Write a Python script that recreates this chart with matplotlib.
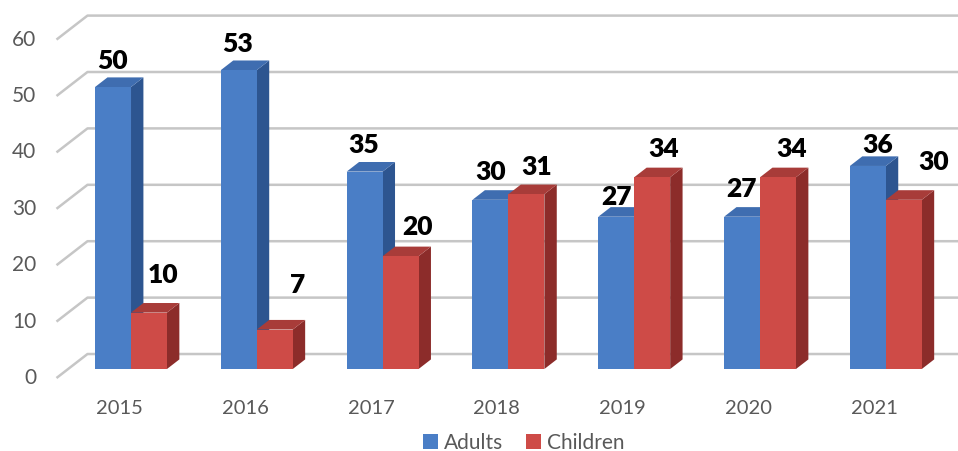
import numpy as np
import matplotlib.pyplot as plt
from matplotlib.patches import Polygon, Patch

plt.rcParams['font.family'] = ['Lato', 'DejaVu Sans']

# data
years = ['2015', '2016', '2017', '2018', '2019', '2020', '2021']
adults = [50, 53, 35, 30, 27, 27, 36]
children = [10, 7, 20, 31, 34, 34, 30]
y_ticks = [0, 10, 20, 30, 40, 50, 60]

# label nudges in pixels (right, up) from the top front edge of each bar
adult_nudge = [(-1, 18), (-1, 18), (-1, 19), (0, 20), (0, 12), (-1, 20), (10, 13)]
child_nudge = [(14, 30), (23, 37), (17, 21), (10, 19), (11, 20), (14, 20), (30, 30)]

# oblique 3d projection: one unit of depth moves this far in data units
DX = 0.2464
DY = 4.255
BAR_W = 0.2857
Z_FRONT, Z_BACK = 0.375, 0.775

series = [
    (adults, -BAR_W, adult_nudge, {'front': '#4A7EC6', 'side': '#2D5590', 'top': '#3F6DB0'}),
    (children, 0.0, child_nudge, {'front': '#CE4B47', 'side': '#8C2C2A', 'top': '#A83C39'}),
]


def proj(x, v, z):
    return (x + z * DX, v + z * DY)


fig = plt.figure(figsize=(9.58, 4.51), dpi=100)
ax = fig.add_axes([0, 0, 1, 1])
ax.set_xlim(-0.949, 6.666)
ax.set_ylim(-12.94, 67.02)
ax.axis('off')

# walls: side wall diagonals and back wall grid
x_left, x_right = -0.5, 6.6
for t in y_ticks:
    p0 = proj(x_left, t, 0)
    p1 = proj(x_left, t, 1)
    p2 = proj(x_right, t, 1)
    ax.plot([p0[0], p1[0], p2[0]], [p0[1], p1[1], p2[1]], color='#C6C6C6', lw=1.8,
            solid_capstyle='butt', zorder=1)
    ax.annotate(str(t), xy=p0, xytext=(-20, 0), textcoords='offset pixels',
                ha='right', va='center', fontsize=15, color='#595959')

# bars, left to right so that each front face hides the neighbour's side
for i, yr in enumerate(years):
    for vals, off, nudge, col in series:
        v = vals[i]
        x0, x1 = i + off, i + off + BAR_W
        side = [proj(x1, 0, Z_FRONT), proj(x1, 0, Z_BACK), proj(x1, v, Z_BACK), proj(x1, v, Z_FRONT)]
        top = [proj(x0, v, Z_FRONT), proj(x1, v, Z_FRONT), proj(x1, v, Z_BACK), proj(x0, v, Z_BACK)]
        front = [proj(x0, 0, Z_FRONT), proj(x1, 0, Z_FRONT), proj(x1, v, Z_FRONT), proj(x0, v, Z_FRONT)]
        ax.add_patch(Polygon(side, closed=True, fc=col['side'], ec='none', zorder=3))
        ax.add_patch(Polygon(top, closed=True, fc=col['top'], ec='none', zorder=3))
        ax.add_patch(Polygon(front, closed=True, fc=col['front'], ec='none', zorder=3))
        ax.annotate(str(v), xy=proj((x0 + x1) / 2, v, Z_FRONT), xytext=nudge[i],
                    textcoords='offset pixels', ha='center', va='baseline',
                    fontsize=19, fontweight='heavy', color='black', zorder=5)
    ax.annotate(yr, xy=proj(i, 0, 0), xytext=(0, -30), textcoords='offset pixels',
                ha='center', va='center', fontsize=14.5, color='#595959')

handles = [Patch(fc=series[0][3]['front'], label='Adults'),
           Patch(fc=series[1][3]['front'], label='Children')]
fig.legend(handles=handles, loc='center', bbox_to_anchor=(0.547, 0.018), ncol=2,
           frameon=False, fontsize=15, handlelength=0.7, handleheight=0.7,
           handletextpad=0.3, columnspacing=1.1, labelcolor='#595959')

fig.savefig('out.png', dpi=100)
